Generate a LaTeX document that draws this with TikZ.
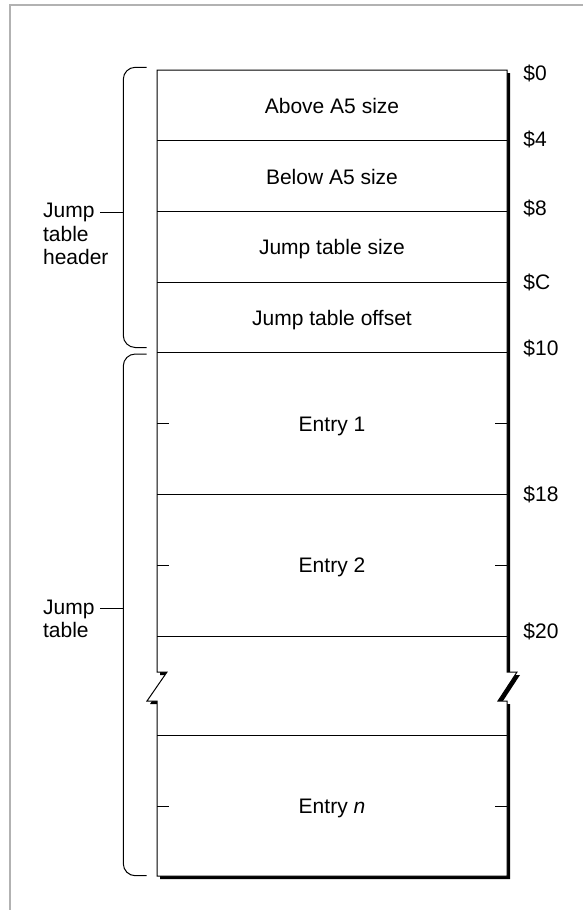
\documentclass[tikz,border=0pt]{standalone}
\usepackage{fontspec}
\setmainfont{Liberation Sans}

\begin{document}
\begin{tikzpicture}[
    x=0.5pt, y=-0.5pt,
    every node/.style={font=\fontsize{10.5}{11.85}\selectfont, inner sep=0pt},
    field/.style={anchor=center, text height=7.5pt, text depth=0pt},
    addr/.style={anchor=west, text height=7.5pt, text depth=0pt},
    side/.style={align=left, anchor=north west},
    rule/.style={line width=0.5pt},
    brace/.style={line width=0.5pt, rounded corners=6pt},
    frame/.style={draw=black!30, line width=1pt},
    tablebody/.style={insert path={(157,70) -- (507,70) -- (507,672) -- (517,672)
        -- (498,701) -- (507,701) -- (507,876) -- (157,876) -- (157,701)
        -- (147,701) -- (167,672) -- (157,672) -- cycle}},
  ]
  \useasboundingbox (0,0) rectangle (583,910);

  % Page frame
  \draw[frame] (9.5,910) -- (9.5,4.5) -- (583,4.5);

  % Table outline with drop shadow and break marks
  \path[fill=black, shift={(3,3)}, tablebody];
  \path[fill=white, draw=black, line width=0.5pt, tablebody];

  % Field dividers
  \draw[rule] (157,140.7) -- (507,140.7);
  \draw[rule] (157,211.7) -- (507,211.7);
  \draw[rule] (157,282.3) -- (507,282.3);
  \draw[rule] (157,352.7) -- (507,352.7);
  \draw[rule] (157,494) -- (507,494);
  \draw[rule] (157,636) -- (507,636);
  \draw[rule] (157,735) -- (507,735);

  % Header fields
  \node[field] (above) at (332,106) {Above A5 size};
  \node[field] (below) at (332,176.5) {Below A5 size};
  \node[field] (jtsize) at (332,247) {Jump table size};
  \node[field] (jtoffset) at (332,318) {Jump table offset};

  % Entries
  \node[field] (entry1) at (332,424) {Entry 1};
  \node[field] (entry2) at (332,565) {Entry 2};
  \node[field] (entryn) at (332,806) {Entry \textit{n}};

  % Half-entry ticks
  \draw[rule] (157,423) -- ++(12,0);
  \draw[rule] (507,423) -- ++(-12,0);
  \draw[rule] (157,565) -- ++(12,0);
  \draw[rule] (507,565) -- ++(-12,0);
  \draw[rule] (157,806) -- ++(12,0);
  \draw[rule] (507,806) -- ++(-12,0);

  % Offsets
  \node[addr] (off0) at (523,73.3) {\$0};
  \node[addr] (off4) at (523,138.8) {\$4};
  \node[addr] (off8) at (523,208.3) {\$8};
  \node[addr] (offC) at (523,281.7) {\$C};
  \node[addr] (off10) at (523,348) {\$10};
  \node[addr] (off18) at (523,494) {\$18};
  \node[addr] (off20) at (523,630.5) {\$20};

  % Braces
  \draw[brace] (146.7,67.3) -- (123.3,67.3) -- (123.3,347.5) -- (146.7,347.5);
  \draw[brace] (146.7,354) -- (123.3,354) -- (123.3,875.7) -- (146.7,875.7);
  \coordinate (hdrmid) at (123.3,212);
  \coordinate (tblmid) at (123.3,608);

  % Brace labels
  \node[side] (hdrlabel) at (42.7,202.7) {Jump\\table\\header};
  \node[side] (tbllabel) at (42.7,599.3) {Jump\\table};
  \coordinate (hdrtick) at (100,212);
  \coordinate (tbltick) at (100,608);
  \draw[rule] (hdrtick) -- (hdrmid);
  \draw[rule] (tbltick) -- (tblmid);
\end{tikzpicture}
\end{document}
